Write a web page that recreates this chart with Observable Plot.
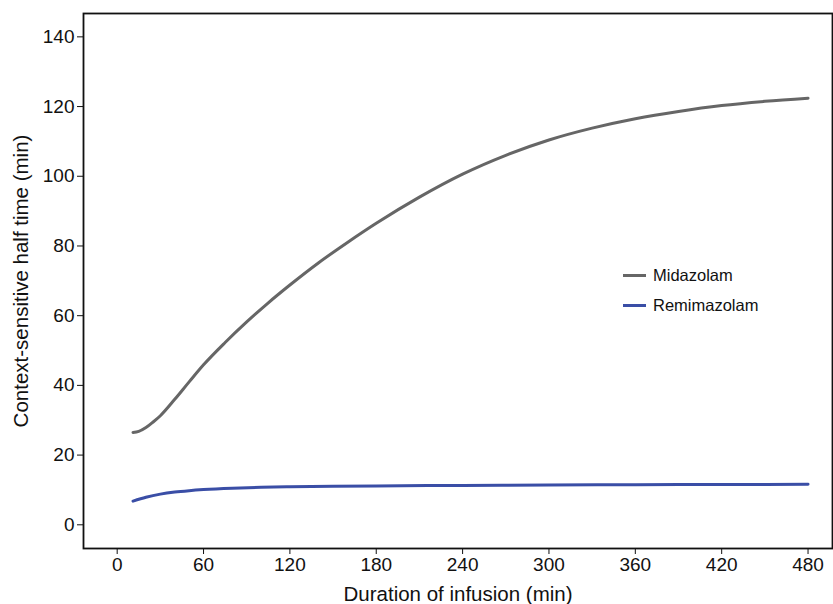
<!DOCTYPE html>
<html>
<head>
<meta charset="utf-8">
<script src="https://cdn.jsdelivr.net/npm/d3@7"></script>
<script src="https://cdn.jsdelivr.net/npm/@observablehq/plot@0.6"></script>
<style>
  html, body { margin: 0; padding: 0; background: #fff; }
  #wrap { position: relative; width: 833px; height: 604px; font-family: "Liberation Sans", Arial, sans-serif; }
  #wrap svg g[aria-label="x-axis tick label"] text,
  #wrap svg g[aria-label="y-axis tick label"] text { font-size: 19px !important; }
  #wrap svg g[aria-label="x-axis label"] text,
  #wrap svg g[aria-label="y-axis label"] text { font-size: 20.5px !important; }
  .legend { position: absolute; left: 623px; top: 260px; font-size: 16.5px; color: #111; }
  .legend .item { display: flex; align-items: center; height: 30px; }
  .legend .swatch { width: 23px; height: 3px; margin-right: 7px; }
</style>
</head>
<body>
<div id="wrap"></div>
<script>
const series = ["Midazolam", "Remimazolam"];
const colors = ["#666666", "#3a4ea6"];

const midazolamX = [11, 15, 20, 25, 30, 40, 50, 60, 75, 90, 105, 120, 140, 160, 180, 210, 240, 270, 300, 330, 360, 390, 420, 450, 480];
const midazolamY = [26.5, 26.8, 27.9, 29.5, 31.3, 36.0, 41.0, 45.9, 52.3, 58.2, 63.7, 68.8, 75.2, 81.0, 86.5, 94.0, 100.6, 106.0, 110.4, 113.8, 116.5, 118.6, 120.3, 121.5, 122.4];

const remimazolamX = [11, 20, 30, 40, 50, 60, 80, 100, 120, 150, 180, 240, 300, 360, 420, 480];
const remimazolamY = [6.8, 7.9, 8.8, 9.4, 9.8, 10.1, 10.5, 10.75, 10.9, 11.05, 11.15, 11.3, 11.4, 11.5, 11.55, 11.6];

const xTicks = [0, 60, 120, 180, 240, 300, 360, 420, 480];
const yTicks = [0, 20, 40, 60, 80, 100, 120, 140];

const data = [
  ...midazolamX.map((x, i) => ({drug: series[0], x, y: midazolamY[i]})),
  ...remimazolamX.map((x, i) => ({drug: series[1], x, y: remimazolamY[i]}))
];

const chart = Plot.plot({
  width: 833,
  height: 604,
  marginLeft: 83,
  marginTop: 13,
  marginBottom: 56,
  marginRight: 1,
  style: {fontFamily: "'Liberation Sans', Arial, sans-serif", color: "#111", background: "#fff"},
  x: {domain: [-23.4, 497]},
  y: {domain: [-6.8, 146.7]},
  color: {domain: series, range: colors},
  marks: [
    Plot.axisX({ticks: xTicks, tickSize: 6, tickPadding: 3, fontSize: 19, label: "Duration of infusion (min)", labelAnchor: "center", labelArrow: "none", labelOffset: 52}),
    Plot.axisY({ticks: yTicks, tickSize: 6, tickPadding: 3, fontSize: 19, label: "Context-sensitive half time (min)", labelAnchor: "center", labelArrow: "none", labelOffset: 70}),
    Plot.line(data, {x: "x", y: "y", z: "drug", stroke: "drug", strokeWidth: 3, curve: "monotone-x"}),
    Plot.frame({stroke: "#111", strokeWidth: 1.8})
  ]
});

const wrap = document.getElementById("wrap");
wrap.appendChild(chart);

const legend = document.createElement("div");
legend.className = "legend";
series.forEach((s, i) => {
  const item = document.createElement("div");
  item.className = "item";
  const sw = document.createElement("span");
  sw.className = "swatch";
  sw.style.background = colors[i];
  const lab = document.createElement("span");
  lab.textContent = s;
  item.appendChild(sw);
  item.appendChild(lab);
  legend.appendChild(item);
});
wrap.appendChild(legend);
</script>
</body>
</html>
